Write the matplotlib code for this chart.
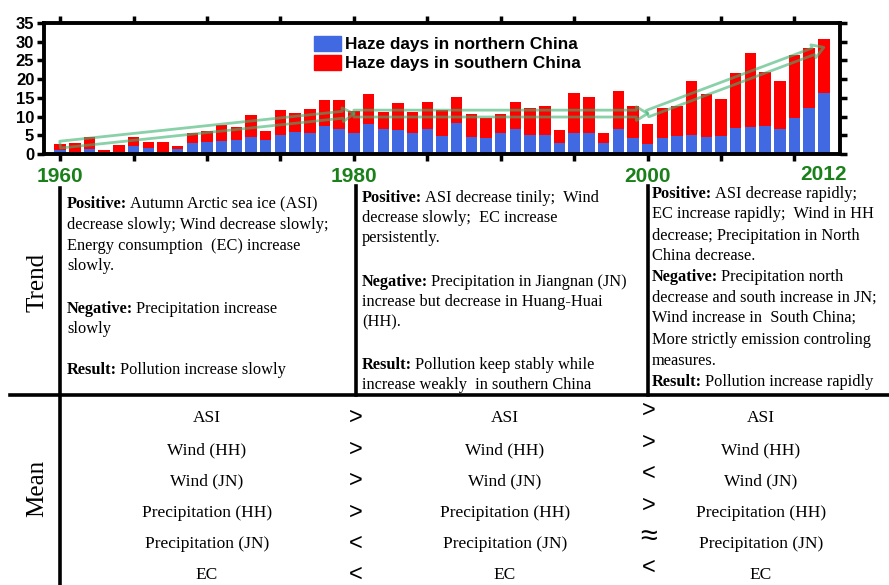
import matplotlib
matplotlib.use("Agg")
import matplotlib.pyplot as plt
import numpy as np
from matplotlib.lines import Line2D
from matplotlib.patches import FancyArrowPatch, Patch

W, H = 889, 585

# haze days per year, 1960-2012
years = list(range(1960, 2013))
north_days = [1.1, 0.6, 1.3, 0.3, 0.5, 2.2, 1.5, 0.6, 1.3, 3.0,
              3.2, 3.5, 3.7, 4.6, 3.7, 5.2, 6.0, 5.5, 7.5, 6.7,
              5.7, 8.0, 6.7, 6.4, 5.5, 6.7, 4.8, 8.2, 4.6, 4.2,
              5.7, 6.7, 5.1, 5.1, 2.9, 5.7, 5.5, 2.9, 6.7, 4.4,
              2.7, 4.2, 4.9, 5.1, 4.5, 4.8, 7.0, 7.3, 7.5, 6.8,
              9.5, 12.2, 16.2]
total_days = [2.7, 3.0, 4.5, 1.0, 2.4, 4.6, 3.1, 3.1, 2.2, 5.7,
              6.2, 7.7, 7.2, 10.4, 6.1, 11.8, 10.9, 12.0, 14.4, 14.4,
              11.5, 16.1, 11.1, 13.7, 11.1, 14.0, 11.8, 15.2, 10.7, 9.5,
              10.7, 14.0, 12.2, 12.9, 6.4, 16.4, 15.2, 5.7, 16.7, 12.7,
              7.9, 12.4, 12.8, 19.5, 16.0, 14.7, 21.7, 26.9, 22.0, 19.5,
              26.5, 28.3, 30.7]
south_days = [t - n for t, n in zip(total_days, north_days)]

# trend arrows: (start year, start value, end year, end value)
trend_segments = [(1960, 2.5, 1980, 10.8),
                  (1980, 10.8, 2000, 10.8),
                  (2000, 10.8, 2012, 28.5)]

trend_text = [
    [("Positive:", "Autumn Arctic sea ice (ASI)", 204),
     ("", "decrease slowly; Wind decrease slowly;", 225),
     ("", "Energy consumption  (EC) increase", 246),
     ("", "slowly.", 266),
     ("Negative:", "Precipitation increase", 309),
     ("", "slowly", 329),
     ("Result:", "Pollution increase slowly", 370)],
    [("Positive:", "ASI decrease tinily;  Wind", 198),
     ("", "decrease slowly;  EC increase", 218),
     ("", "persistently.", 238),
     ("Negative:", "Precipitation in Jiangnan (JN)", 282),
     ("", "increase but decrease in Huang-Huai", 302),
     ("", "(HH).", 322),
     ("Result:", "Pollution keep stably while", 365),
     ("", "increase weakly  in southern China", 385)],
    [("Positive:", "ASI decrease rapidly;", 194),
     ("", "EC increase rapidly;  Wind in HH", 214),
     ("", "decrease; Precipitation in North", 236),
     ("", "China decrease.", 256),
     ("Negative:", "Precipitation north", 277),
     ("", "decrease and south increase in JN;", 298),
     ("", "Wind increase in  South China;", 318),
     ("", "More strictly emission controling", 340),
     ("", "measures.", 361),
     ("Result:", "Pollution increase rapidly", 382)],
]
trend_x = [67, 362, 652]

mean_items = ["ASI", "Wind (HH)", "Wind (JN)", "Precipitation (HH)",
              "Precipitation (JN)", "EC"]
mean_rows = [418, 450, 481, 513, 544, 575]
mean_cols = [207, 505, 761]
compare_1 = [">", ">", ">", ">", "<", "<"]
compare_2 = [">", ">", "<", ">", "\u2248", "<"]

blue = "#4169e1"
red = "#ff0000"
green_lbl = "#1a801a"
arrow_col = "#3cb371"
serif = "Liberation Serif"
sans = "Liberation Sans"


def fx(x):
    return x / W


def fy(y):
    return 1 - y / H


fig = plt.figure(figsize=(W / 100, H / 100), dpi=100)

# ---- stacked bars ----
ax = fig.add_axes([fx(44), fy(154), fx(840) - fx(44), fy(23) - fy(154)])
ax.bar(years, north_days, width=0.78, color=blue, zorder=2)
ax.bar(years, south_days, width=0.78, bottom=north_days, color=red, zorder=2)

for x0, y0, x1, y1 in trend_segments:
    arr = FancyArrowPatch((x0, y0), (x1, y1),
                          arrowstyle="simple,head_length=0.9,head_width=1.1,tail_width=0.55",
                          mutation_scale=9, facecolor="none", edgecolor=arrow_col,
                          linewidth=2.0, alpha=0.6, shrinkA=0, shrinkB=0, zorder=3)
    ax.add_patch(arr)

ax.set_xlim(1958.9, 2013.1)
ax.set_ylim(0, 35)
ax.set_yticks(range(0, 36, 5))
ax.set_yticklabels([str(v) for v in range(0, 36, 5)],
                   fontfamily=sans, fontweight="bold", fontsize=12)
xt = list(range(1960, 2015, 5))
ax.set_xticks(xt)
ax.set_xticklabels([str(v) if v in (1960, 1980, 2000) else "" for v in xt],
                   fontfamily=sans, fontweight="bold", fontsize=15, color=green_lbl)
ax.set_xticks([2012], minor=True)
ax.set_xticklabels(["2012"], minor=True, fontfamily=sans, fontweight="bold",
                   fontsize=15, color=green_lbl)
ax.tick_params(axis="x", which="minor", length=0, pad=8)
ax.tick_params(axis="both", which="major", direction="out", width=2.5, length=5, pad=2,
               top=True, right=True)
ax.tick_params(axis="x", which="major", pad=4)
for s in ax.spines.values():
    s.set_linewidth(2.8)

ax.legend(handles=[Patch(color=blue, label="Haze days in northern China"),
                   Patch(color=red, label="Haze days in southern China")],
          loc="upper left", bbox_to_anchor=(fx(305), fy(27)), bbox_transform=fig.transFigure,
          frameon=False, borderpad=0, handlelength=1.6, handleheight=1.0,
          handletextpad=0.2, labelspacing=0.15,
          prop={"family": sans, "size": 12.4, "weight": "bold"})

# ---- table lines ----
def hline(y, x0, x1, lw=2.6):
    fig.add_artist(Line2D([fx(x0), fx(x1)], [fy(y), fy(y)], color="black", lw=lw))


def vline(x, y0, y1, lw=2.6):
    fig.add_artist(Line2D([fx(x), fx(x)], [fy(y0), fy(y1)], color="black", lw=lw))


hline(395, 10, 889)
vline(60, 188, 585)
vline(356, 186, 395)
vline(648, 186, 395)

fig.text(fx(37), fy(282), "Trend", rotation=90, family=serif, fontsize=18,
         ha="center", va="center")
fig.text(fx(37), fy(488), "Mean", rotation=90, family=serif, fontsize=18,
         ha="center", va="center")

renderer = fig.canvas.get_renderer()
for x, lines in zip(trend_x, trend_text):
    for bold, rest, y in lines:
        xpos = fx(x)
        if bold:
            t = fig.text(xpos, fy(y), bold, family=serif, fontweight="bold",
                         fontsize=11.8, va="center")
            bb = t.get_window_extent(renderer)
            xpos = fx(bb.x1 + 3)
        fig.text(xpos, fy(y), rest, family=serif, fontsize=11.8, va="center")

for i, item in enumerate(mean_items):
    for cx in mean_cols:
        fig.text(fx(cx), fy(mean_rows[i]), item, family=serif, fontsize=12.5,
                 ha="center", va="center")
    fig.text(fx(356), fy(mean_rows[i]), compare_1[i], family=sans, fontsize=17,
             ha="center", va="center")
    size2 = 22 if compare_2[i] == "\u2248" else 17
    fig.text(fx(649), fy(mean_rows[i] - 7), compare_2[i], family=sans, fontsize=size2,
             ha="center", va="center")

fig.savefig("out.png", dpi=100)
